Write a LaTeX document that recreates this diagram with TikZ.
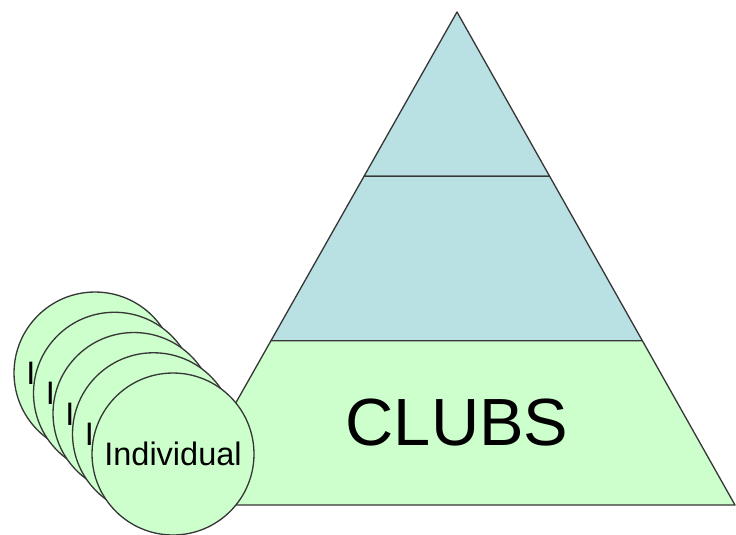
\documentclass[tikz,border=0pt]{standalone}
\usepackage{fontspec}
\setmainfont{Liberation Sans}
\usetikzlibrary{calc}
\definecolor{TierBlue}{RGB}{185,224,227}
\definecolor{TierGreen}{RGB}{204,255,204}
\definecolor{EdgeGray}{RGB}{55,55,55}

\begin{document}
\begin{tikzpicture}[x=0.02cm,y=-0.02cm,line width=0.75pt,
  tier/.style={draw=EdgeGray,line join=round},
  member/.style={circle,draw=EdgeGray,fill=TierGreen,minimum size=3.24cm,inner sep=0pt,
    font=\fontsize{18.5}{20}\selectfont}]
\useasboundingbox (0,0) rectangle (736,534);
\coordinate (apex) at (457,12);
\coordinate (bl) at (178,505);
\coordinate (br) at (735,505);
\draw[tier,fill=TierBlue] (apex) -- ($(apex)!1/3!(br)$) -- ($(apex)!1/3!(bl)$) -- cycle;
\draw[tier,fill=TierBlue] ($(apex)!1/3!(bl)$) -- ($(apex)!1/3!(br)$) -- ($(apex)!2/3!(br)$) -- ($(apex)!2/3!(bl)$) -- cycle;
\draw[tier,fill=TierGreen] ($(apex)!2/3!(bl)$) -- ($(apex)!2/3!(br)$) -- (br) -- (bl) -- cycle;
\node[font=\fontsize{38}{40}\selectfont] (clubs) at (457,423) {CLUBS};
% stack of members, back to front
\foreach \i in {0,...,4}
  \node[member] (ind\i) at ({95+19.5*\i},{373+20.25*\i}) {Individual};
\end{tikzpicture}
\end{document}
